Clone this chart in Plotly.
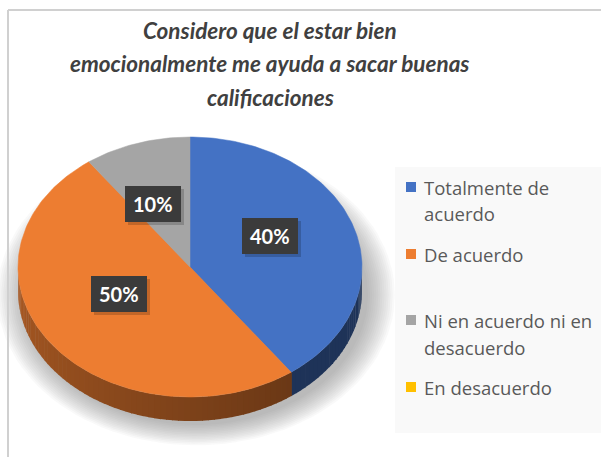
import numpy as np
import plotly.graph_objects as go

# Survey answers and their shares (%)
categories = ["Totalmente de acuerdo", "De acuerdo", "Ni en acuerdo ni en desacuerdo", "En desacuerdo"]
values = [40, 50, 10, 0]
legend_lines = [["Totalmente de", "acuerdo"], ["De acuerdo"], ["Ni en acuerdo ni en", "desacuerdo"], ["En desacuerdo"]]
title_lines = ["Considero que el estar bien", "emocionalmente me ayuda a sacar buenas", "calificaciones"]

colors = ["#4472C4", "#ED7D31", "#A5A5A5", "#FFC000"]

W, H = 601, 457
# geometry of the tilted pie (pixel space, y grows downward)
CX, CY, A, B, DEPTH = 190, 267, 172, 130, 24
START = 90.0  # first slice starts at 12 o'clock, runs clockwise
label_pos = [(270, 236), (119, 294), (153, 204)]
legend_y = [[187, 213], [254], [320, 347], [387]]

def pt(theta_deg, dy=0.0):
    t = np.radians(theta_deg)
    return CX + A * np.cos(t), CY + dy - B * np.sin(t)

def hex_rgb(h):
    h = h.lstrip("#")
    return tuple(int(h[i:i + 2], 16) for i in (0, 2, 4))

def shade(hexcol, f):
    r, g, b = hex_rgb(hexcol)
    return f"rgb({int(r * f)},{int(g * f)},{int(b * f)})"

fig = go.Figure()

# soft drop shadow under the pie
for i in range(14):
    s = 1.0 + i * 0.012
    t = np.linspace(0, 2 * np.pi, 120)
    xs = CX + 6 + A * s * np.cos(t)
    ys = CY + DEPTH + 4 + B * s * np.sin(t)
    fig.add_trace(go.Scatter(x=xs, y=ys, fill="toself", mode="lines", line=dict(width=0),
                             fillcolor="rgba(120,120,120,0.045)", hoverinfo="skip", showlegend=False))

# slice angle ranges (clockwise)
total = sum(values)
ranges = []
a0 = START
for v in values:
    a1 = a0 - 360.0 * v / total
    ranges.append((a1, a0))
    a0 = a1

# visible rim of each slice (front half of the ellipse)
for (lo, hi), col, v in zip(ranges, colors, values):
    if v == 0:
        continue
    for k in (-1, 0, 1):
        s0 = max(lo, -180 + 360 * k)
        s1 = min(hi, 0 + 360 * k)
        if s1 <= s0:
            continue
        n = max(2, int((s1 - s0) / 2))
        edges = np.linspace(s0, s1, n + 1)
        for e0, e1 in zip(edges[:-1], edges[1:]):
            mid = (e0 + e1) / 2 - 360 * k
            f = 0.72 - 0.27 * np.clip((mid + 180) / 126.0, 0, 1)
            th = np.linspace(e0, e1 + 0.3, 4)
            top = [pt(t) for t in th]
            bot = [pt(t, DEPTH) for t in th[::-1]]
            poly = top + bot
            fig.add_trace(go.Scatter(x=[p[0] for p in poly], y=[p[1] for p in poly],
                                     fill="toself", mode="lines", line=dict(width=0),
                                     fillcolor=shade(col, f), hoverinfo="skip", showlegend=False))

# top faces
for (lo, hi), col, v, name in zip(ranges, colors, values, categories):
    if v == 0:
        continue
    th = np.linspace(hi, lo, max(8, int(hi - lo)))
    poly = [(CX, CY)] + [pt(t) for t in th] + [(CX, CY)]
    fig.add_trace(go.Scatter(x=[p[0] for p in poly], y=[p[1] for p in poly],
                             fill="toself", mode="lines", line=dict(width=0.5, color=col),
                             fillcolor=col, name=name, showlegend=False))

shapes = []
annotations = []

# percentage labels in dark boxes
shown = [v for v in values if v > 0]
for v, (lx, ly) in zip(shown, label_pos):
    bw, bh = 56, 36
    shapes.append(dict(type="rect", x0=lx - bw / 2 + 3, x1=lx + bw / 2 + 3, y0=ly - bh / 2 + 3, y1=ly + bh / 2 + 3,
                       fillcolor="rgba(0,0,0,0.18)", line=dict(width=0), layer="above"))
    shapes.append(dict(type="rect", x0=lx - bw / 2, x1=lx + bw / 2, y0=ly - bh / 2, y1=ly + bh / 2,
                       fillcolor="#3B3B3B", line=dict(width=0), layer="above"))
    annotations.append(dict(x=lx, y=ly, text=f"<b>{v}%</b>", showarrow=False, xanchor="center", yanchor="middle",
                            font=dict(family="Lato", size=20, color="white")))

# legend panel
shapes.append(dict(type="rect", x0=395, x1=602, y0=167, y1=433, fillcolor="#F9F9F9", line=dict(width=0), layer="below"))
for col, lines, ys in zip(colors, legend_lines, legend_y):
    shapes.append(dict(type="rect", x0=406, x1=416, y0=ys[0] - 5, y1=ys[0] + 5, fillcolor=col, line=dict(width=0)))
    for txt, yy in zip(lines, ys):
        annotations.append(dict(x=422, y=yy, text=txt, showarrow=False, xanchor="left", yanchor="middle",
                                font=dict(family="Open Sans", size=18.5, color="#595959")))

# title
for txt, yy in zip(title_lines, [30, 63.5, 97]):
    annotations.append(dict(x=270, y=yy, text=f"<b><i>{txt}</i></b>", showarrow=False, xanchor="center",
                            yanchor="middle", font=dict(family="Lato", size=22.5, color="#404040")))

# chart frame
shapes.append(dict(type="line", x0=8, x1=8, y0=10, y1=460, line=dict(color="#D0D0D0", width=2)))
shapes.append(dict(type="line", x0=8, x1=610, y0=10, y1=10, line=dict(color="#D0D0D0", width=2)))

fig.update_layout(
    width=W, height=H, margin=dict(l=0, r=0, t=0, b=0),
    paper_bgcolor="white", plot_bgcolor="white",
    xaxis=dict(range=[0, W], visible=False, fixedrange=True),
    yaxis=dict(range=[H, 0], visible=False, fixedrange=True),
    shapes=shapes, annotations=annotations, showlegend=False,
)

fig.write_html("out.html")
